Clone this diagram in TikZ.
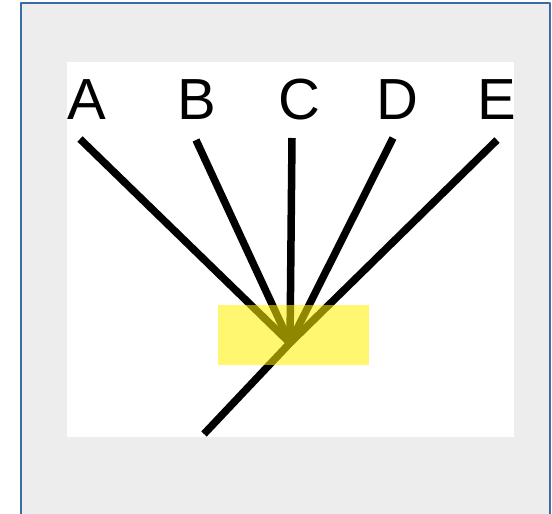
\documentclass[tikz,border=0pt]{standalone}
\usepackage{fontspec}
\setmainfont{Liberation Sans}
\definecolor{panelgray}{RGB}{237,237,237}
\definecolor{frameblue}{RGB}{58,106,168}
\tikzset{
  letter/.style={anchor=base, inner sep=0pt, font=\fontsize{58}{58}\selectfont},
  branch/.style={line width=7.5pt, line cap=butt},
  hubbox/.style={fill=yellow, fill opacity=0.56, minimum width=151pt, minimum height=60pt, inner sep=0pt}
}
\begin{document}
\begin{tikzpicture}[x=1pt, y=-1pt, line join=round]
	\useasboundingbox (0,0) rectangle (552,514);
	\fill[panelgray] (21,3) rectangle (550,516);
	\draw[frameblue, line width=2.5pt] (21,516)--(21,3)--(550,3)--(550,516);
	\fill[white] (67,62) rectangle (514,437);
	\path	(290,343) coordinate (H)
		(204,434) coordinate (T);
	\foreach \n/\x/\lx/\ly in {A/87/80/139,B/197/196/140,C/299/292/138,D/397/393/138,E/497/497/140}
	{
		\node[letter] (\n) at (\x,119) {\n};
		\coordinate (\n top) at (\lx,\ly);
		\draw[branch] (\n top)--(H);
	}
	\draw[branch] (H)--(T);
	\node[hubbox] (box) at (293.5,335) {};
\end{tikzpicture}
\end{document}
